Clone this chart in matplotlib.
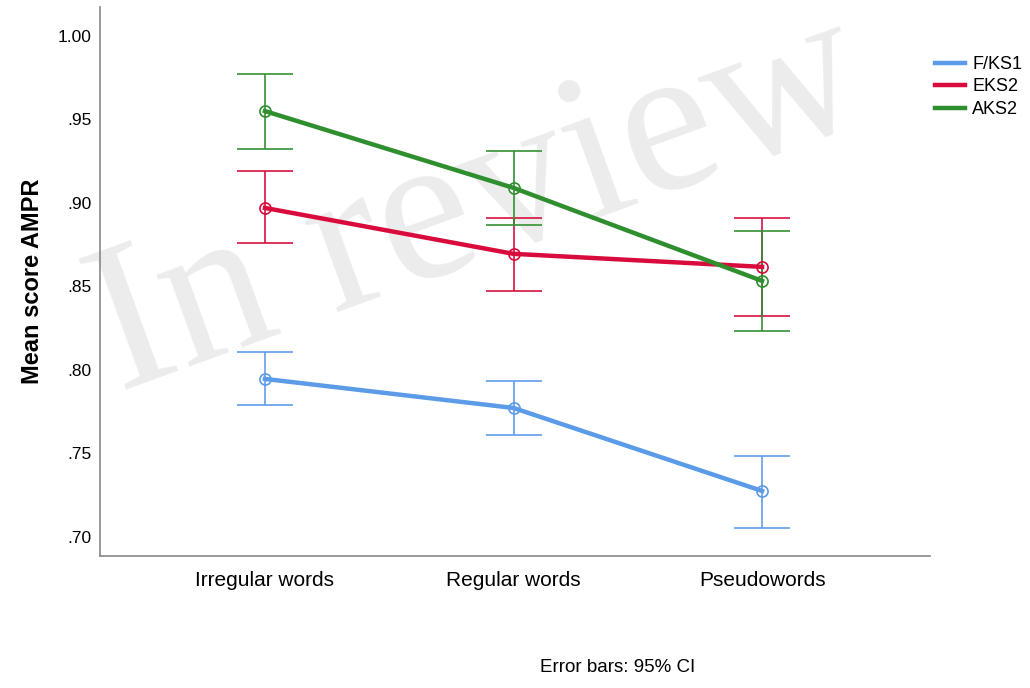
import matplotlib
matplotlib.use("Agg")
import matplotlib.pyplot as plt
import numpy as np

categories = ["Irregular words", "Regular words", "Pseudowords"]
groups = ["F/KS1", "EKS2", "AKS2"]
colors = ["#5b9be8", "#d80b3c", "#2f8f2f"]

# means and 95% CI bounds
means_fks1 = [0.7946, 0.7772, 0.7275]
low_fks1 = [0.7790, 0.7611, 0.7054]
high_fks1 = [0.8108, 0.7934, 0.7485]

means_eks2 = [0.8970, 0.8695, 0.8617]
low_eks2 = [0.8760, 0.8475, 0.8320]
high_eks2 = [0.9190, 0.8910, 0.8910]

means_aks2 = [0.9550, 0.9090, 0.8533]
low_aks2 = [0.9323, 0.8866, 0.8230]
high_aks2 = [0.9770, 0.9313, 0.8832]

means = [means_fks1, means_eks2, means_aks2]
lows = [low_fks1, low_eks2, low_aks2]
highs = [high_fks1, high_eks2, high_aks2]

plt.rcParams['font.family'] = ['Liberation Sans', 'DejaVu Sans']

fig = plt.figure(figsize=(10.3, 6.88), dpi=100)
ax = fig.add_axes([0.097, 0.192, 0.806, 0.798])

# watermark
fig.text(0.465, 0.70, "In review", family="Liberation Serif", fontsize=152,
         color="#ececec", rotation=20, ha="center", va="center", zorder=-1)

x = np.arange(len(categories))
handles = []
for g, c, m, lo, hi in zip(groups, colors, means, lows, highs):
    m = np.array(m)
    err = [m - np.array(lo), np.array(hi) - m]
    ax.errorbar(x, m, yerr=err, fmt="none", ecolor=c, elinewidth=1.3,
                capsize=20, capthick=1.3, alpha=0.9, zorder=2)
    h, = ax.plot(x, m, color=c, lw=3.2, zorder=3, label=g)
    ax.plot(x, m, "o", ms=8, mfc="none", mec=c, mew=1.2, zorder=4)
    handles.append(h)

ax.set_xlim(-0.664, 2.676)
ax.set_ylim(0.6886, 1.0174)
ax.set_xticks(x)
ax.set_xticklabels(categories, fontsize=15)
ax.set_yticks([0.70, 0.75, 0.80, 0.85, 0.90, 0.95, 1.00])
ax.set_yticklabels([".70", ".75", ".80", ".85", ".90", ".95", "1.00"], fontsize=12.5)
ax.tick_params(axis="y", length=0, pad=6)
ax.tick_params(axis="x", length=0, pad=11)
ax.set_ylabel("Mean score AMPR", fontsize=17, fontweight="bold", labelpad=10)
for s in ["top", "right"]:
    ax.spines[s].set_visible(False)
for s in ["left", "bottom"]:
    ax.spines[s].set_color("#888888")
    ax.spines[s].set_linewidth(1.2)
ax.patch.set_alpha(0)

fig.legend(handles=handles, loc="upper left", bbox_to_anchor=(935 / 1030, 0.9186),
           frameon=False, fontsize=13, handlelength=1.67, handletextpad=0.4,
           labelspacing=0.3, borderpad=0, borderaxespad=0)

fig.text(0.6, 0.023, "Error bars: 95% CI", fontsize=13.5, ha="center")

fig.savefig("out.png", dpi=100)
